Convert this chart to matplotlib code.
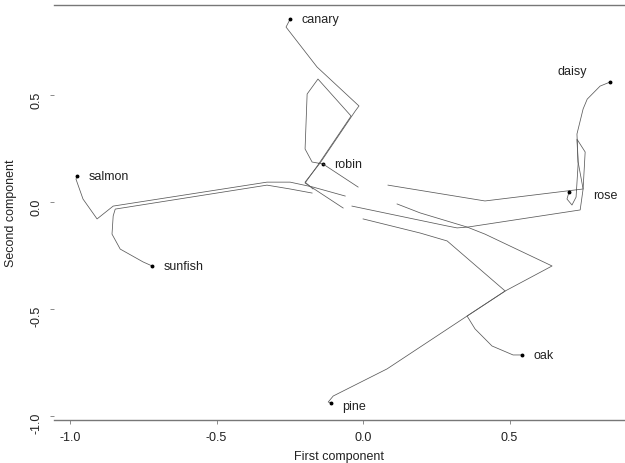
"""
Trajectories of eight items in the space of the first two principal
components of the hidden representation.
"""

# -------------------------
# IMPORT LIBRARY
# -------------------------
import numpy as np
import matplotlib
matplotlib.use("Agg")
import matplotlib.pyplot as plt

# -------------------------
# DATA
# -------------------------
nan = np.nan

salmon_x = [-0.061, -0.171, -0.249, -0.328, -0.853, -0.908, -0.956, -0.980, -0.976]
salmon_y = [0.028, 0.070, 0.093, 0.093, -0.019, -0.079, 0.014, 0.107, 0.121]

sunfish_x = [-0.174, -0.249, -0.328, -0.846, -0.853, -0.857, -0.829, -0.751, -0.720]
sunfish_y = [0.042, 0.061, 0.079, -0.033, -0.065, -0.150, -0.220, -0.280, -0.299]

canary_x = [-0.171, -0.198, -0.147, -0.027, -0.014, -0.157, -0.263, -0.249]
canary_y = [0.061, 0.093, 0.182, 0.425, 0.449, 0.631, 0.818, 0.855]

robin_x = [-0.068, -0.198, -0.154, -0.041, -0.154, -0.191, -0.198, -0.174, -0.137]
robin_y = [-0.028, 0.089, 0.173, 0.402, 0.575, 0.505, 0.248, 0.187, 0.178]

rose_x = [-0.137, -0.017, nan, 0.085, 0.416, 0.751, 0.758, 0.730, 0.734, 0.727, 0.713, 0.696, 0.703]
rose_y = [0.178, 0.070, nan, 0.079, 0.005, 0.061, 0.234, 0.294, 0.178, 0.023, -0.014, 0.014, 0.047]

daisy_x = [-0.038, 0.287, 0.321, 0.358, 0.741, 0.751, 0.734, 0.730, 0.751, 0.765, 0.809, 0.843]
daisy_y = [-0.019, -0.112, -0.121, -0.117, -0.037, 0.061, 0.187, 0.318, 0.435, 0.481, 0.542, 0.561]

oak_x = [0.116, 0.195, 0.355, 0.416, 0.645, 0.485, 0.355, 0.382, 0.440, 0.512, 0.543]
oak_y = [-0.009, -0.051, -0.117, -0.150, -0.299, -0.416, -0.533, -0.593, -0.673, -0.715, -0.715]

pine_x = [0.000, 0.195, 0.287, 0.485, 0.355, 0.082, -0.102, -0.119, -0.109]
pine_y = [-0.079, -0.145, -0.182, -0.416, -0.533, -0.780, -0.907, -0.935, -0.939]

items = ["salmon", "sunfish", "canary", "robin", "rose", "daisy", "oak", "pine"]
paths_x = [salmon_x, sunfish_x, canary_x, robin_x, rose_x, daisy_x, oak_x, pine_x]
paths_y = [salmon_y, sunfish_y, canary_y, robin_y, rose_y, daisy_y, oak_y, pine_y]

x_ticks = [-1.0, -0.5, 0.0, 0.5]
y_ticks = [-1.0, -0.5, 0.0, 0.5]

# label offsets from the end point, in points
LABEL_OFFSET = {"daisy": (-27, 8, "center"), "rose": (17, -2, "left"),
                "pine": (8, -2, "left")}
DEFAULT_OFFSET = (8, 0, "left")


# -------------------------
# PLOT
# -------------------------
def make_plot():
    plt.rcParams["font.family"] = ["Liberation Sans", "DejaVu Sans"]
    plt.rcParams["font.size"] = 9

    fig = plt.figure(figsize=(6.25, 4.64), dpi=100)
    ax = fig.add_axes([0.0864, 0.0927, 0.9136, 0.8943])

    for name, xs, ys in zip(items, paths_x, paths_y):
        ax.plot(xs, ys, color="#5a5a5a", linewidth=0.55)
        ax.plot(xs[-1], ys[-1], marker="o", markersize=1.8, color="black")
        dx, dy, ha = LABEL_OFFSET.get(name, DEFAULT_OFFSET)
        ax.annotate(name, (xs[-1], ys[-1]), xytext=(dx, dy),
                    textcoords="offset points", ha=ha, va="center",
                    fontsize=9, color="#222222")

    ax.set_xlim(-1.055, 0.894)
    ax.set_ylim(-1.019, 0.921)
    ax.set_xticks(x_ticks)
    ax.set_yticks(y_ticks)
    ax.set_xticklabels([f"{t:.1f}" for t in x_ticks])
    ax.set_yticklabels([f"{t:.1f}" for t in y_ticks])
    ax.tick_params(axis="y", labelrotation=90, pad=5)
    ax.tick_params(axis="x", pad=5)
    ax.tick_params(length=3, width=0.6, color="#777777", labelcolor="#222222",
                   labelsize=9)

    ax.spines["left"].set_visible(False)
    ax.spines["right"].set_visible(False)
    for side in ("top", "bottom"):
        ax.spines[side].set_color("#777777")
        ax.spines[side].set_linewidth(1.0)

    ax.set_xlabel("First component", fontsize=9, color="#222222", labelpad=5)
    ax.set_ylabel("Second component", fontsize=9, color="#222222", labelpad=10)

    fig.savefig("out.png", dpi=100)


def main():
    make_plot()


if __name__ == "__main__":
    main()
